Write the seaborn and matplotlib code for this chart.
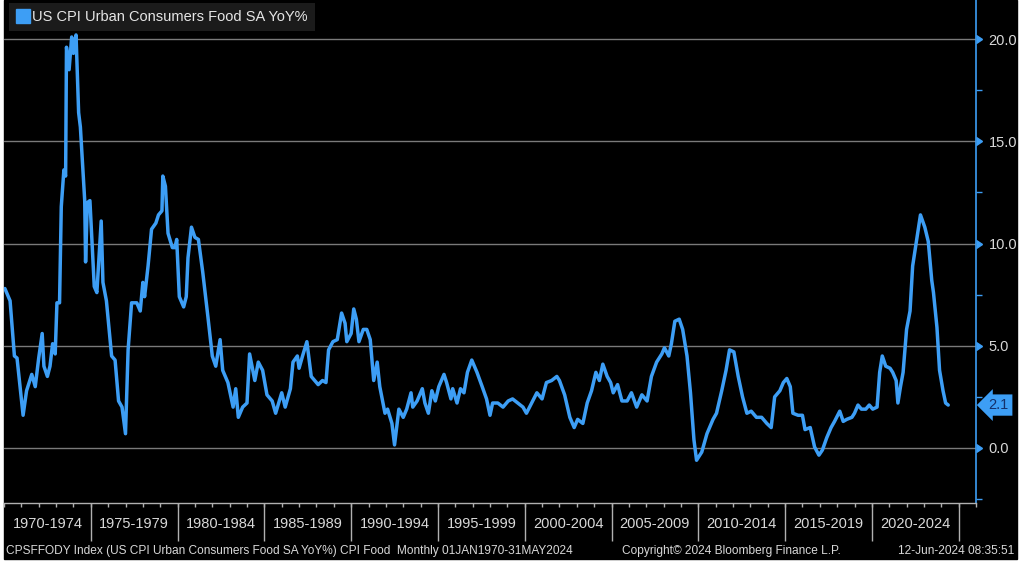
import matplotlib
matplotlib.use("Agg")
import matplotlib.pyplot as plt
import matplotlib.ticker as mticker
from matplotlib.lines import Line2D
from matplotlib.patches import Rectangle
import seaborn as sns

# monthly YoY % (decimal year, value)
years = [
    1970.05, 1970.35, 1970.6, 1970.75, 1971.1, 1971.3, 1971.6, 1971.8, 1972.0, 1972.2,
    1972.3, 1972.5, 1972.65, 1972.8, 1972.95, 1973.05, 1973.2, 1973.3, 1973.45, 1973.55,
    1973.6, 1973.75, 1973.9, 1974.0, 1974.15, 1974.3, 1974.4, 1974.65, 1974.7, 1974.8,
    1974.95, 1975.2, 1975.35, 1975.6, 1975.7, 1975.9, 1976.2, 1976.4, 1976.6, 1976.8,
    1977.0, 1977.15, 1977.35, 1977.65, 1977.85, 1978.0, 1978.1, 1978.3, 1978.5, 1978.75,
    1978.9, 1979.1, 1979.15, 1979.3, 1979.45, 1979.7, 1979.85, 1979.95, 1980.1, 1980.35,
    1980.5, 1980.6, 1980.8, 1981.0, 1981.2, 1981.45, 1981.75, 1982.0, 1982.2, 1982.45,
    1982.6, 1982.9, 1983.2, 1983.35, 1983.5, 1983.75, 1984.0, 1984.15, 1984.45, 1984.65,
    1984.9, 1985.15, 1985.45, 1985.65, 1986.0, 1986.2, 1986.5, 1986.65, 1986.9, 1987.0,
    1987.2, 1987.45, 1987.7, 1987.9, 1988.1, 1988.35, 1988.55, 1988.7, 1988.95, 1989.2,
    1989.45, 1989.65, 1989.75, 1990.0, 1990.15, 1990.3, 1990.45, 1990.7, 1990.9, 1991.1,
    1991.3, 1991.5, 1991.65, 1991.95, 1992.1, 1992.35, 1992.5, 1992.75, 1993.0, 1993.2,
    1993.45, 1993.55, 1993.8, 1994.1, 1994.25, 1994.45, 1994.65, 1994.85, 1995.05, 1995.35,
    1995.5, 1995.75, 1995.85, 1996.1, 1996.3, 1996.5, 1996.7, 1996.95, 1997.25, 1997.55,
    1997.8, 1998.0, 1998.15, 1998.45, 1998.75, 1999.05, 1999.3, 1999.6, 1999.9, 2000.1,
    2000.4, 2000.7, 2001.0, 2001.25, 2001.55, 2001.85, 2002.0, 2002.3, 2002.6, 2002.85,
    2003.05, 2003.35, 2003.6, 2003.85, 2004.1, 2004.3, 2004.5, 2004.75, 2004.95, 2005.1,
    2005.35, 2005.6, 2005.9, 2006.15, 2006.45, 2006.75, 2007.05, 2007.3, 2007.6, 2007.9,
    2008.05, 2008.3, 2008.45, 2008.65, 2008.9, 2009.1, 2009.35, 2009.55, 2009.75, 2009.9,
    2010.2, 2010.5, 2010.85, 2011.05, 2011.35, 2011.6, 2011.8, 2012.05, 2012.3, 2012.55,
    2012.8, 2013.05, 2013.35, 2013.65, 2013.95, 2014.2, 2014.4, 2014.7, 2014.9, 2015.1,
    2015.3, 2015.45, 2015.75, 2016.0, 2016.15, 2016.45, 2016.7, 2016.95, 2017.15, 2017.4,
    2017.65, 2017.85, 2018.15, 2018.35, 2018.55, 2018.85, 2019.0, 2019.2, 2019.4, 2019.65,
    2019.85, 2020.05, 2020.3, 2020.45, 2020.6, 2020.8, 2021.05, 2021.2, 2021.4, 2021.5,
    2021.65, 2021.8, 2022.0, 2022.2, 2022.35, 2022.6, 2022.8, 2023.05, 2023.25, 2023.45,
    2023.55, 2023.75, 2023.9, 2024.1, 2024.25, 2024.4,
]
yoy = [
    7.8, 7.2, 4.5, 4.4, 1.6, 2.8, 3.6, 3.0, 4.4, 5.6,
    4.0, 3.5, 4.0, 5.1, 4.6, 7.1, 7.1, 11.8, 13.6, 13.3,
    19.6, 18.5, 20.1, 19.3, 20.2, 16.4, 15.7, 12.1, 9.1, 12.0,
    12.1, 7.9, 7.6, 11.1, 8.1, 7.2, 4.5, 4.3, 2.3, 2.0,
    0.7, 4.8, 7.1, 7.1, 6.7, 8.1, 7.4, 8.9, 10.7, 11.0,
    11.4, 11.6, 13.3, 12.8, 10.5, 9.8, 9.8, 10.2, 7.4, 6.9,
    7.4, 9.3, 10.8, 10.3, 10.2, 8.6, 6.4, 4.5, 4.0, 5.3,
    3.8, 3.2, 2.0, 2.9, 1.5, 2.0, 2.2, 4.6, 3.3, 4.2,
    3.8, 2.6, 2.3, 1.7, 2.7, 2.0, 2.9, 4.2, 4.5, 3.9,
    4.5, 5.2, 3.5, 3.3, 3.1, 3.3, 3.2, 4.8, 5.2, 5.3,
    6.6, 6.1, 5.2, 5.6, 6.8, 6.3, 5.2, 5.8, 5.8, 5.3,
    3.3, 4.2, 3.0, 1.7, 1.9, 1.2, 0.15, 1.9, 1.5, 1.9,
    2.7, 2.0, 2.3, 2.9, 2.2, 1.7, 2.8, 2.3, 3.0, 3.6,
    3.2, 2.4, 2.9, 2.2, 2.9, 2.7, 3.7, 4.3, 3.7, 3.0,
    2.4, 1.6, 2.2, 2.2, 2.0, 2.3, 2.4, 2.2, 2.0, 1.7,
    2.2, 2.7, 2.4, 3.2, 3.3, 3.5, 3.3, 2.6, 1.5, 1.0,
    1.4, 1.2, 2.2, 2.8, 3.7, 3.3, 4.1, 3.5, 3.2, 2.7,
    3.1, 2.3, 2.3, 2.7, 2.0, 2.6, 2.3, 3.5, 4.2, 4.6,
    4.9, 4.5, 5.1, 6.2, 6.3, 5.8, 4.5, 2.7, 0.4, -0.6,
    -0.2, 0.7, 1.4, 1.7, 2.8, 3.8, 4.8, 4.7, 3.5, 2.5,
    1.7, 1.8, 1.5, 1.5, 1.2, 1.0, 2.5, 2.8, 3.2, 3.4,
    3.0, 1.7, 1.6, 1.6, 0.9, 1.0, 0.05, -0.35, -0.1, 0.5,
    1.0, 1.3, 1.8, 1.3, 1.4, 1.5, 1.7, 2.1, 1.9, 1.9,
    2.1, 1.9, 2.0, 3.7, 4.5, 4.0, 3.9, 3.7, 3.3, 2.2,
    3.0, 3.7, 5.8, 6.7, 8.9, 10.3, 11.4, 10.8, 10.1, 8.2,
    7.6, 5.9, 3.8, 2.8, 2.2, 2.1,
]

series_name = "US CPI Urban Consumers Food SA YoY%"
period_starts = list(range(1970, 2025, 5))
period_labels = [f"{y}-{y + 4}" for y in period_starts]
y_ticks = [0, 5, 10, 15, 20]
footer_left = "CPSFFODY Index (US CPI Urban Consumers Food SA YoY%) CPI Food  Monthly 01JAN1970-31MAY2024"
footer_mid = "Copyright\u00a9 2024 Bloomberg Finance L.P."
footer_right = "12-Jun-2024 08:35:51"

BLUE = "#3d9ef5"
GRID = "#7a7a7a"
TXT = "#d8d8d8"

sns.set_style("dark", rc={"axes.facecolor": "black", "figure.facecolor": "white"})
plt.rcParams["font.family"] = ["Liberation Sans", "DejaVu Sans"]

fig = plt.figure(figsize=(10.24, 5.63), dpi=100)
# black "terminal" panel, thin white margin around it
fig.patches.append(Rectangle((4 / 1024, 4 / 563), 1013 / 1024, 559 / 563,
                             transform=fig.transFigure, color="black", zorder=-10))
ax = fig.add_axes([4 / 1024, 60 / 563, 972 / 1024, 503 / 563])

sns.lineplot(x=years, y=yoy, ax=ax, color=BLUE, lw=2.5, sort=False)

ax.set_xlim(1970, 2026)
ax.set_ylim(-2.69, 21.91)

# right axis
ax.yaxis.tick_right()
ax.set_yticks(y_ticks)
ax.yaxis.set_major_formatter(mticker.FormatStrFormatter("%.1f"))
ax.yaxis.set_minor_locator(mticker.MultipleLocator(2.5))
ax.tick_params(axis="y", which="major", colors=BLUE, labelcolor=TXT,
               labelsize=10.5, pad=3, length=6, width=1)
ax.tick_params(axis="y", which="minor", colors=BLUE, length=4, width=1, right=True)
for t in ax.yaxis.get_major_ticks():
    t.tick2line.set_marker(matplotlib.markers.CARETRIGHTBASE)
    t.tick2line.set_markersize(6)
ax.grid(axis="y", which="major", color=GRID, lw=1)
ax.grid(axis="x", visible=False)

# bottom axis: period labels centred, yearly minor ticks
ax.set_xticks([y + 2.5 for y in period_starts])
ax.set_xticklabels(period_labels)
ax.xaxis.set_minor_locator(mticker.MultipleLocator(1))
ax.tick_params(axis="x", which="major", length=0, labelsize=10.5, labelcolor=TXT, pad=10)
ax.tick_params(axis="x", which="minor", bottom=True, length=3, color="#b0b0b0", width=1)
sec = ax.secondary_xaxis("bottom")
sec.set_xticks(period_starts[1:] + [2025])
sec.set_xticklabels([])
sec.tick_params(length=27, color="#b0b0b0", width=1)
sec.spines["bottom"].set_visible(False)

for side in ["left", "top"]:
    ax.spines[side].set_visible(False)
ax.spines["right"].set_color(BLUE)
ax.spines["right"].set_linewidth(1.2)
ax.spines["bottom"].set_color("#b0b0b0")
ax.spines["bottom"].set_linewidth(1)

# last value badge
ax.annotate(f"{yoy[-1]:.1f}", xy=(1, yoy[-1]), xycoords=("axes fraction", "data"),
            xytext=(9, 0), textcoords="offset points", va="center", ha="left",
            fontsize=10.5, color="#14306a",
            bbox=dict(boxstyle="larrow,pad=0.25", fc=BLUE, ec="none"))

leg = ax.legend(handles=[Line2D([], [], marker="s", ls="none", color=BLUE, markersize=10)],
                labels=[series_name], loc="upper left", bbox_to_anchor=(0.005, 0.995),
                fontsize=10.5, frameon=True, fancybox=False, borderpad=0.5,
                handletextpad=0.2, handlelength=0.9, borderaxespad=0)
leg.get_frame().set_facecolor("#1b1b1b")
leg.get_frame().set_edgecolor("none")
leg.get_frame().set_alpha(1)
for t in leg.get_texts():
    t.set_color("#e6e6e6")

fig.text(6 / 1024, 1 - 551 / 563, footer_left, fontsize=8.6, color=TXT, va="center", ha="left")
fig.text(622 / 1024, 1 - 551 / 563, footer_mid, fontsize=8.6, color=TXT, va="center", ha="left")
fig.text(1014 / 1024, 1 - 551 / 563, footer_right, fontsize=8.6, color=TXT, va="center", ha="right")

fig.savefig("out.png", dpi=100, facecolor="white")
